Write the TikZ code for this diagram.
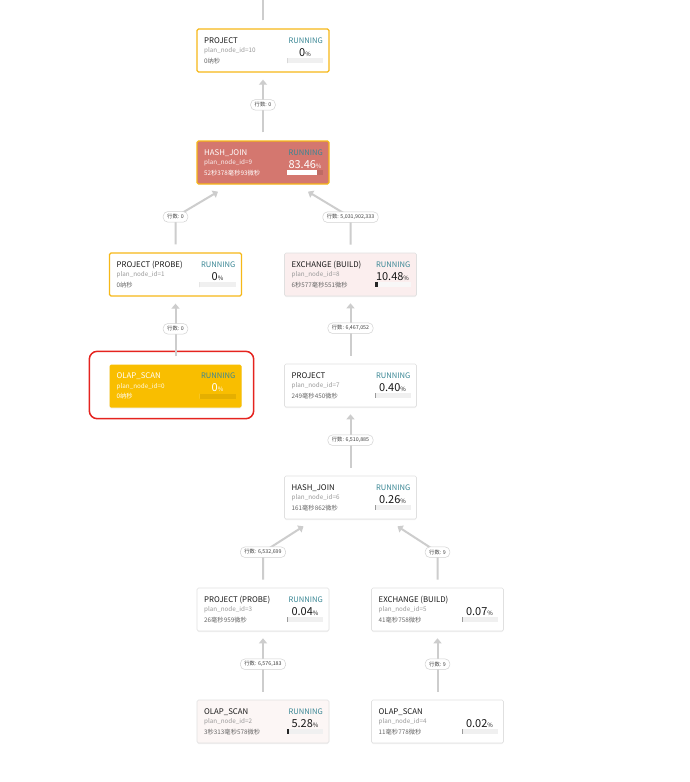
\documentclass[tikz,border=0pt]{standalone}
\usepackage{fontspec}
\setmainfont{Noto Sans CJK SC}
\usetikzlibrary{arrows.meta,shadows}

\definecolor{edgegray}{HTML}{CDCDCD}
\definecolor{runyellow}{HTML}{F6B818}
\definecolor{ambfill}{HTML}{F9BE00}
\definecolor{hotred}{HTML}{D4776F}
\definecolor{pinkfill}{HTML}{FBEEEE}
\definecolor{palepink}{HTML}{FCF6F5}
\definecolor{runteal}{HTML}{3A8795}
\definecolor{selred}{HTML}{E5231F}

\tikzset{
  planbox/.style={rectangle, rounded corners=1.5pt, minimum width=132pt, minimum height=43pt, inner sep=0pt},
  plainbox/.style={planbox, fill=white, draw=black!12, line width=0.6pt,
    drop shadow={shadow xshift=0pt, shadow yshift=-1pt, opacity=0.10}},
  pinkbox/.style={plainbox, fill=pinkfill},
  palebox/.style={plainbox, fill=palepink},
  activebox/.style={planbox, fill=white, draw=runyellow, line width=1.3pt},
  hotbox/.style={planbox, fill=hotred, draw=runyellow, line width=1.3pt},
  scanbox/.style={planbox, fill=ambfill, drop shadow={shadow xshift=0pt, shadow yshift=-1pt, opacity=0.10}},
  selbox/.style={draw=selred, line width=1.5pt, rounded corners=8pt},
  titletext/.style={inner sep=0pt, text=titlecol, font=\fontsize{7.8}{9}\selectfont},
  idtext/.style={inner sep=0pt, text=subcol, font=\fontsize{6.3}{8}\selectfont},
  timetext/.style={inner sep=0pt, text=timecol, font=\fontsize{6.3}{8}\selectfont},
  statustext/.style={inner sep=0pt, text=runteal, font=\fontsize{7.6}{9}\selectfont},
  pcttext/.style={inner sep=0pt, text=titlecol, font=\fontsize{11}{12}\selectfont},
  edge/.style={draw=edgegray, line width=2pt, -{Triangle[length=5pt,width=8pt]}, shorten <=8pt},
  rowlabel/.style={fill=white, draw=black!18, line width=0.5pt, rounded corners=4.5pt,
    inner xsep=4pt, inner ysep=0pt, minimum height=10.5pt, text=black!75, font=\fontsize{5.3}{6}\selectfont}
}

\newcommand{\setcols}[5]{\colorlet{titlecol}{#1}\colorlet{subcol}{#2}\colorlet{timecol}{#3}\colorlet{barbg}{#4}\colorlet{barfg}{#5}}

% one operator box of the plan
\newcommand{\plannode}[8]{%
  \begin{scope}[shift={(#2)}]
    \node[#3] (#1) at (0,0) {};
    \node[titletext, anchor=base west] (#1-title) at (-59,-7.5) {#4};
    \node[idtext, anchor=base west] (#1-id) at (-59,2) {plan\_node\_id=#5};
    \node[timetext, anchor=base west] (#1-time) at (-59,12.5) {#6};
    \if\relax\detokenize{#8}\relax\else
      \node[statustext, anchor=base east] (#1-status) at (60,-7.5) {#8};
    \fi
    \node[pcttext, anchor=base] (#1-pct) at (42,5.5) {#7{\fontsize{6}{6}\selectfont\%}};
    \fill[barbg] (24,7.5) rectangle (60,12.5);
    \pgfmathsetmacro\barw{#7>0 ? max(0.36*#7,0.8) : 0}
    \fill[barfg] (24,7.5) rectangle ++(\barw,5);
  \end{scope}}

\begin{document}
\begin{tikzpicture}[x=1pt,y=-1pt]
  \fill[white] (0,0) rectangle (690,782);
  \useasboundingbox (0,0) rectangle (690,782);

  \setcols{black!90}{black!40}{black!60}{black!6}{black!80}
  \plannode{n10}{263,50.5}{activebox}{PROJECT}{10}{0纳秒}{0}{RUNNING}
  \setcols{white}{white!90!hotred}{white}{hotred!90!black}{white}
  \plannode{n9}{263,162.5}{hotbox}{HASH\_JOIN}{9}{52秒378毫秒93微秒}{83.46}{RUNNING}
  \setcols{black!90}{black!40}{black!60}{black!6}{black!80}
  \plannode{n1}{175.5,274.5}{activebox}{PROJECT (PROBE)}{1}{0纳秒}{0}{RUNNING}
  \setcols{black!90}{black!40}{black!60}{pinkfill!80!black!12}{black!85}
  \plannode{n8}{350.5,274.5}{pinkbox}{EXCHANGE (BUILD)}{8}{6秒577毫秒551微秒}{10.48}{RUNNING}
  \setcols{white}{white!90!ambfill}{white}{ambfill!92!black}{white}
  \plannode{n0}{175.5,386}{scanbox}{OLAP\_SCAN}{0}{0纳秒}{0}{RUNNING}
  \setcols{black!90}{black!40}{black!60}{black!6}{black!40}
  \plannode{n7}{350.5,385.5}{plainbox}{PROJECT}{7}{249毫秒450微秒}{0.40}{RUNNING}
  \plannode{n6}{350.5,497.5}{plainbox}{HASH\_JOIN}{6}{161毫秒862微秒}{0.26}{RUNNING}
  \plannode{n3}{263,609.5}{plainbox}{PROJECT (PROBE)}{3}{26毫秒959微秒}{0.04}{RUNNING}
  \plannode{n5}{437.5,609.5}{plainbox}{EXCHANGE (BUILD)}{5}{41毫秒758微秒}{0.07}{}
  \setcols{black!90}{black!40}{black!60}{black!6}{black!85}
  \plannode{n2}{263,721.5}{palebox}{OLAP\_SCAN}{2}{3秒313毫秒578微秒}{5.28}{RUNNING}
  \setcols{black!90}{black!40}{black!60}{black!6}{black!40}
  \plannode{n4}{437.5,721.5}{plainbox}{OLAP\_SCAN}{4}{11毫秒778微秒}{0.02}{}

  % selected operator
  \draw[selbox] ([xshift=-20pt,yshift=13pt]n0.north west) rectangle ([xshift=12pt,yshift=-11pt]n0.south east);

  % row counts between operators
  \coordinate (top) at (263,-20);
  \draw[edge] (n10.north) -- (top);
  \draw[edge] (n9.north) -- ++(0,-35.5) node[rowlabel] (r9) {行数: 0} -- ([yshift=-7pt]n10.south);
  \draw[edge] (n1.north) -- ++(0,-35.5) node[rowlabel] (r1) {行数: 0} -- ([xshift=-45pt,yshift=-7pt]n9.south);
  \draw[edge] (n8.north) -- ++(0,-35.5) node[rowlabel] (r8) {行数: 5,031,902,333} -- ([xshift=45pt,yshift=-7pt]n9.south);
  \draw[edge] (n0.north) -- ++(0,-35.5) node[rowlabel] (r0) {行数: 0} -- ([yshift=-7pt]n1.south);
  \draw[edge] (n7.north) -- ++(0,-35.5) node[rowlabel] (r7) {行数: 6,467,052} -- ([yshift=-7pt]n8.south);
  \draw[edge] (n6.north) -- ++(0,-35.5) node[rowlabel] (r6) {行数: 6,510,885} -- ([yshift=-7pt]n7.south);
  \draw[edge] (n3.north) -- ++(0,-35.5) node[rowlabel] (r3) {行数: 6,532,699} -- ([xshift=-47pt,yshift=-7pt]n6.south);
  \draw[edge] (n5.north) -- ++(0,-35.5) node[rowlabel] (r5) {行数: 9} -- ([xshift=47pt,yshift=-7pt]n6.south);
  \draw[edge] (n2.north) -- ++(0,-35.5) node[rowlabel] (r2) {行数: 6,576,183} -- ([yshift=-7pt]n3.south);
  \draw[edge] (n4.north) -- ++(0,-35.5) node[rowlabel] (r4) {行数: 9} -- ([yshift=-7pt]n5.south);
\end{tikzpicture}
\end{document}
